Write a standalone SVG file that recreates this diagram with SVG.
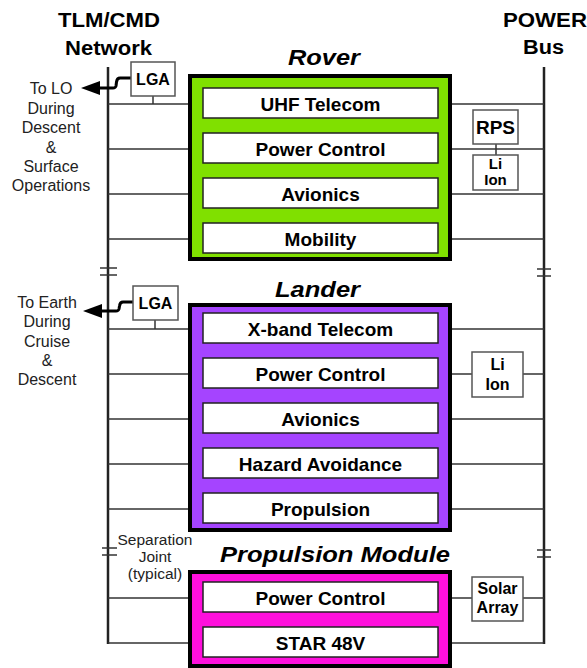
<svg xmlns="http://www.w3.org/2000/svg" width="587" height="668" viewBox="0 0 587 668">
<style>
.bus{stroke:#222;stroke-width:2.5;fill:none}
.ln{stroke:#333;stroke-width:1.5;fill:none}
.jt{stroke:#333;stroke-width:1.5;fill:none}
.zz{stroke:#000;stroke-width:3;fill:none;stroke-linejoin:round}
.outer{stroke:#000;stroke-width:4}
.inner{fill:#fff;stroke:#222;stroke-width:1.5}
.sbox{fill:#fff;stroke:#555;stroke-width:1.5}
.hd{font-family:"Liberation Sans",Arial,sans-serif;font-weight:bold;font-size:20px;text-anchor:middle;fill:#000}
.tt{font-family:"Liberation Sans",Arial,sans-serif;font-weight:bold;font-style:italic;font-size:22px;text-anchor:middle;fill:#000}
.bl{font-family:"Liberation Sans",Arial,sans-serif;font-weight:bold;font-size:19px;text-anchor:middle;fill:#000}
.sm{font-family:"Liberation Sans",Arial,sans-serif;font-size:16px;text-anchor:middle;fill:#222}
.sj{font-family:"Liberation Sans",Arial,sans-serif;font-size:15.5px;text-anchor:middle;fill:#222}
.lb{font-family:"Liberation Sans",Arial,sans-serif;font-weight:bold;font-size:16px;text-anchor:middle;fill:#000}
</style>

<g id="headers">
<text class="hd" x="109" y="27" textLength="102" lengthAdjust="spacingAndGlyphs">TLM/CMD</text>
<text class="hd" x="108.5" y="55" textLength="87" lengthAdjust="spacingAndGlyphs">Network</text>
<text class="hd" x="545" y="27" textLength="84" lengthAdjust="spacingAndGlyphs">POWER</text>
<text class="hd" x="543.5" y="54" textLength="41" lengthAdjust="spacingAndGlyphs">Bus</text>
</g>

<g id="connectors">
<line class="bus" x1="108" y1="67" x2="108" y2="644"/>
<line class="bus" x1="544" y1="67" x2="544" y2="644"/>
<!-- separation joints -->
<line class="jt" x1="100" y1="268" x2="117" y2="268"/>
<line class="jt" x1="100" y1="275" x2="117" y2="275"/>
<line class="jt" x1="537" y1="269" x2="551" y2="269"/>
<line class="jt" x1="537" y1="276" x2="551" y2="276"/>
<line class="jt" x1="102" y1="548" x2="117" y2="548"/>
<line class="jt" x1="102" y1="555" x2="117" y2="555"/>
<line class="jt" x1="537" y1="550" x2="551" y2="550"/>
<line class="jt" x1="537" y1="557" x2="551" y2="557"/>
<!-- rover lines -->
<line class="ln" x1="108" y1="104" x2="203" y2="104"/>
<line class="ln" x1="438" y1="104" x2="544" y2="104"/>
<line class="ln" x1="108" y1="149" x2="203" y2="149"/>
<line class="ln" x1="438" y1="149" x2="544" y2="149"/>
<line class="ln" x1="108" y1="194" x2="203" y2="194"/>
<line class="ln" x1="438" y1="194" x2="544" y2="194"/>
<line class="ln" x1="108" y1="239" x2="203" y2="239"/>
<line class="ln" x1="438" y1="239" x2="544" y2="239"/>
<line class="ln" x1="153" y1="96" x2="153" y2="104"/>
<line class="ln" x1="496" y1="144" x2="496" y2="155"/>
<!-- lander lines -->
<line class="ln" x1="108" y1="329" x2="203" y2="329"/>
<line class="ln" x1="438" y1="329" x2="544" y2="329"/>
<line class="ln" x1="108" y1="374" x2="203" y2="374"/>
<line class="ln" x1="438" y1="374" x2="472" y2="374"/>
<line class="ln" x1="523" y1="374" x2="544" y2="374"/>
<line class="ln" x1="108" y1="419" x2="203" y2="419"/>
<line class="ln" x1="438" y1="419" x2="544" y2="419"/>
<line class="ln" x1="108" y1="464" x2="203" y2="464"/>
<line class="ln" x1="438" y1="464" x2="544" y2="464"/>
<line class="ln" x1="108" y1="509" x2="203" y2="509"/>
<line class="ln" x1="438" y1="509" x2="544" y2="509"/>
<line class="ln" x1="155" y1="320" x2="155" y2="329"/>
<!-- propulsion lines -->
<line class="ln" x1="108" y1="598" x2="203" y2="598"/>
<line class="ln" x1="438" y1="598" x2="472" y2="598"/>
<line class="ln" x1="523" y1="598" x2="544" y2="598"/>
<line class="ln" x1="108" y1="643" x2="203" y2="643"/>
<line class="ln" x1="438" y1="643" x2="544" y2="643"/>
<!-- antenna links -->
<path class="zz" d="M131,78 L120,78 Q117,78 116.5,82 L116,86 Q115.5,88 113,88 L98,88"/>
<polygon points="81,88 100,81 100,95" fill="#000"/>
<path class="zz" d="M133,302 L123,302 Q120,302 119.5,306 L119,309 Q118.5,311 116,311 L100,311"/>
<polygon points="83,311 102,304 102,318" fill="#000"/>
</g>

<g id="comm-labels">
<text class="sm" x="51" y="94">To LO</text>
<text class="sm" x="51" y="114">During</text>
<text class="sm" x="51" y="133">Descent</text>
<text class="sm" x="51" y="153">&amp;</text>
<text class="sm" x="51" y="172">Surface</text>
<text class="sm" x="51" y="191">Operations</text>
<text class="sm" x="47" y="308">To Earth</text>
<text class="sm" x="47" y="327">During</text>
<text class="sm" x="47" y="347">Cruise</text>
<text class="sm" x="47" y="366">&amp;</text>
<text class="sm" x="47" y="385">Descent</text>
<text class="sj" x="155" y="545">Separation</text>
<text class="sj" x="155" y="562">Joint</text>
<text class="sj" x="155" y="579">(typical)</text>
</g>

<g id="rover">
<text class="tt" x="324" y="65" textLength="72" lengthAdjust="spacingAndGlyphs">Rover</text>
<rect class="outer" x="190" y="76" width="260" height="183" fill="#80E000"/>
<g id="rover-uhf"><rect class="inner" x="203" y="88" width="235" height="30"/><text class="bl" x="320.5" y="111">UHF Telecom</text></g>
<g id="rover-power"><rect class="inner" x="203" y="133" width="235" height="30"/><text class="bl" x="320.5" y="156">Power Control</text></g>
<g id="rover-avionics"><rect class="inner" x="203" y="178" width="235" height="30"/><text class="bl" x="320.5" y="201">Avionics</text></g>
<g id="rover-mobility"><rect class="inner" x="203" y="223" width="235" height="30"/><text class="bl" x="320.5" y="246">Mobility</text></g>
</g>
<g id="rover-lga"><rect class="sbox" x="131" y="62" width="44" height="34"/><text class="lb" x="153" y="85">LGA</text></g>
<g id="rover-rps"><rect class="sbox" x="473" y="110" width="45" height="34"/><text class="bl" x="495.5" y="134">RPS</text></g>
<g id="rover-liion"><rect class="sbox" x="473" y="155" width="45" height="35"/><text class="lb" x="495.5" y="169" style="font-size:15px">Li</text><text class="lb" x="495.5" y="185" style="font-size:15px">Ion</text></g>

<g id="lander">
<text class="tt" x="317.5" y="297" textLength="85" lengthAdjust="spacingAndGlyphs">Lander</text>
<rect class="outer" x="190" y="305" width="260" height="225" fill="#A544FF"/>
<g id="lander-xband"><rect class="inner" x="203" y="313" width="235" height="30"/><text class="bl" x="320.5" y="336">X-band Telecom</text></g>
<g id="lander-power"><rect class="inner" x="203" y="358" width="235" height="30"/><text class="bl" x="320.5" y="381">Power Control</text></g>
<g id="lander-avionics"><rect class="inner" x="203" y="403" width="235" height="30"/><text class="bl" x="320.5" y="426">Avionics</text></g>
<g id="lander-hazard"><rect class="inner" x="203" y="448" width="235" height="30"/><text class="bl" x="320.5" y="471">Hazard Avoidance</text></g>
<g id="lander-propulsion"><rect class="inner" x="203" y="493" width="235" height="30"/><text class="bl" x="320.5" y="516">Propulsion</text></g>
</g>
<g id="lander-lga"><rect class="sbox" x="133" y="286" width="45" height="34"/><text class="lb" x="155.5" y="309">LGA</text></g>
<g id="lander-liion"><rect class="sbox" x="472" y="352" width="51" height="45"/><text class="lb" x="497.5" y="370">Li</text><text class="lb" x="497.5" y="390">Ion</text></g>

<g id="propulsion-module">
<text class="tt" x="335" y="562" textLength="230" lengthAdjust="spacingAndGlyphs">Propulsion Module</text>
<rect class="outer" x="190" y="572" width="260" height="94" fill="#FF10DC"/>
<g id="pm-power"><rect class="inner" x="203" y="582" width="235" height="30"/><text class="bl" x="320.5" y="605">Power Control</text></g>
<g id="pm-star"><rect class="inner" x="203" y="627" width="235" height="30"/><text class="bl" x="320.5" y="650">STAR 48V</text></g>
</g>
<g id="solar-array"><rect class="sbox" x="472" y="577" width="51" height="44"/><text class="lb" x="497.5" y="594">Solar</text><text class="lb" x="497.5" y="613">Array</text></g>
</svg>
